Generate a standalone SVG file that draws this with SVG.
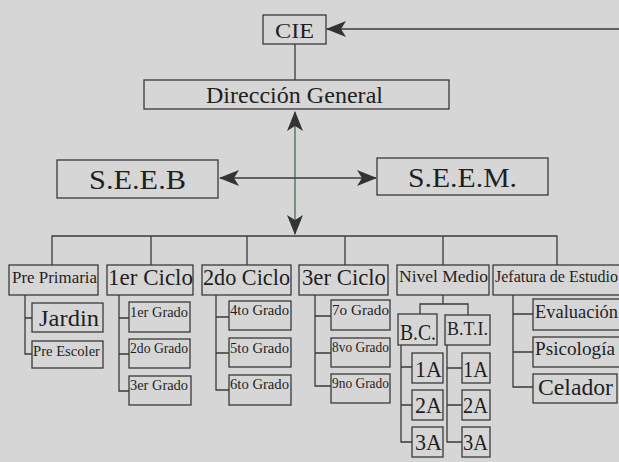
<svg xmlns="http://www.w3.org/2000/svg" width="619" height="462" viewBox="0 0 619 462">
<style>
.bx{fill:none;stroke:#3a3a3a;stroke-width:1.3}
.ln{fill:none;stroke:#3a3a3a;stroke-width:1.3}
.t{font-family:'Liberation Serif','Times New Roman',serif;fill:#1f1f1f}
</style>
<defs>
<marker id="ah" markerUnits="userSpaceOnUse" markerWidth="20" markerHeight="16" viewBox="0 0 20 16" refX="19" refY="8" orient="auto-start-reverse">
<path d="M0,0 L20,8 L0,16 L5,8 z" fill="#333"/>
</marker>
</defs>
<rect x="0" y="0" width="619" height="462" fill="#d6d6d6"/>

<g id="connectors">
<line class="ln" x1="619" y1="29" x2="327" y2="29" marker-end="url(#ah)"/>
<line class="ln" x1="295" y1="44" x2="295" y2="80"/>
<line x1="295" y1="112" x2="295" y2="234" stroke="#4c684c" stroke-width="1.3" marker-start="url(#ah)" marker-end="url(#ah)"/>
<line class="ln" x1="220" y1="178" x2="376" y2="178" marker-start="url(#ah)" marker-end="url(#ah)"/>
<path class="ln" d="M52,265 V236 H557 V265 M151,236 V265 M247,236 V265 M345,236 V265 M443,236 V265"/>
<path class="ln" d="M25,295 V354 H32 M25,318 H32"/>
<path class="ln" d="M119,295 V391 H129 M119,318 H129 M119,354 H129"/>
<path class="ln" d="M216,295 V390 H229 M216,317 H229 M216,353 H229"/>
<path class="ln" d="M315,295 V386 H331 M315,316 H331 M315,353 H331"/>
<path class="ln" d="M443,295 V304 M420,314 V304 H468 V315"/>
<path class="ln" d="M401,345 V442 H412 M401,367 H412 M401,405 H412"/>
<path class="ln" d="M447,345 V442 H462 M447,368 H462 M447,405 H462"/>
<path class="ln" d="M513,295 V387 H533 M513,314 H533 M513,352 H533"/>
</g>

<g id="cie"><rect class="bx" x="263" y="15" width="63" height="29"/><text class="t" x="275" y="38" font-size="22" textLength="39" lengthAdjust="spacingAndGlyphs">CIE</text></g>
<g id="direccion"><rect class="bx" x="144" y="80" width="305" height="29"/><text class="t" x="206" y="103" font-size="23" textLength="177" lengthAdjust="spacingAndGlyphs">Dirección General</text></g>
<g id="seeb"><rect class="bx" x="57" y="160" width="161" height="38"/><text class="t" x="89" y="189" font-size="27" textLength="97" lengthAdjust="spacingAndGlyphs">S.E.E.B</text></g>
<g id="seem"><rect class="bx" x="377" y="158" width="171" height="37"/><text class="t" x="408" y="187" font-size="27" textLength="109" lengthAdjust="spacingAndGlyphs">S.E.E.M.</text></g>

<g id="preprimaria"><rect class="bx" x="9" y="265" width="89" height="30"/><text class="t" x="12" y="283" font-size="16" textLength="85" lengthAdjust="spacingAndGlyphs">Pre Primaria</text></g>
<g id="ciclo1"><rect class="bx" x="107" y="265" width="86" height="30"/><text class="t" x="108" y="285" font-size="23" textLength="85" lengthAdjust="spacingAndGlyphs">1er Ciclo</text></g>
<g id="ciclo2"><rect class="bx" x="202" y="265" width="89" height="30"/><text class="t" x="203" y="285" font-size="23" textLength="87" lengthAdjust="spacingAndGlyphs">2do Ciclo</text></g>
<g id="ciclo3"><rect class="bx" x="299" y="265" width="89" height="30"/><text class="t" x="302" y="285" font-size="23" textLength="84" lengthAdjust="spacingAndGlyphs">3er Ciclo</text></g>
<g id="nivelmedio"><rect class="bx" x="397" y="265" width="92" height="30"/><text class="t" x="399" y="282" font-size="17" textLength="89" lengthAdjust="spacingAndGlyphs">Nivel Medio</text></g>
<g id="jefatura"><rect class="bx" x="493" y="265" width="135" height="30"/><text class="t" x="495" y="282" font-size="16" textLength="123" lengthAdjust="spacingAndGlyphs">Jefatura de Estudio</text></g>

<g id="jardin"><rect class="bx" x="32" y="303" width="71" height="29"/><text class="t" x="39" y="326" font-size="24" textLength="60" lengthAdjust="spacingAndGlyphs">Jardin</text></g>
<g id="preescoler"><rect class="bx" x="32" y="341" width="71" height="27"/><text class="t" x="33" y="356" font-size="15" textLength="67" lengthAdjust="spacingAndGlyphs">Pre Escoler</text></g>

<g id="grado1"><rect class="bx" x="129" y="302" width="61" height="30"/><text class="t" x="130" y="317" font-size="15" textLength="58" lengthAdjust="spacingAndGlyphs">1er Grado</text></g>
<g id="grado2"><rect class="bx" x="129" y="339" width="61" height="29"/><text class="t" x="130" y="353" font-size="15" textLength="58" lengthAdjust="spacingAndGlyphs">2do Grado</text></g>
<g id="grado3"><rect class="bx" x="129" y="376" width="62" height="29"/><text class="t" x="130" y="390" font-size="15" textLength="58" lengthAdjust="spacingAndGlyphs">3er Grado</text></g>

<g id="grado4"><rect class="bx" x="229" y="301" width="62" height="29"/><text class="t" x="230" y="315" font-size="15" textLength="59" lengthAdjust="spacingAndGlyphs">4to Grado</text></g>
<g id="grado5"><rect class="bx" x="229" y="338" width="62" height="29"/><text class="t" x="230" y="353" font-size="15" textLength="59" lengthAdjust="spacingAndGlyphs">5to Grado</text></g>
<g id="grado6"><rect class="bx" x="229" y="375" width="62" height="30"/><text class="t" x="230" y="389" font-size="15" textLength="59" lengthAdjust="spacingAndGlyphs">6to Grado</text></g>

<g id="grado7"><rect class="bx" x="331" y="300" width="59" height="30"/><text class="t" x="332" y="315" font-size="15" textLength="57" lengthAdjust="spacingAndGlyphs">7o Grado</text></g>
<g id="grado8"><rect class="bx" x="331" y="338" width="59" height="29"/><text class="t" x="332" y="352" font-size="15" textLength="57" lengthAdjust="spacingAndGlyphs">8vo Grado</text></g>
<g id="grado9"><rect class="bx" x="331" y="374" width="59" height="29"/><text class="t" x="332" y="388" font-size="15" textLength="57" lengthAdjust="spacingAndGlyphs">9no Grado</text></g>

<g id="bc"><rect class="bx" x="398" y="314" width="39" height="31"/><text class="t" x="400" y="340" font-size="24" textLength="36" lengthAdjust="spacingAndGlyphs">B.C.</text></g>
<g id="bti"><rect class="bx" x="445" y="315" width="45" height="30"/><text class="t" x="447" y="335" font-size="18" textLength="41" lengthAdjust="spacingAndGlyphs">B.T.I.</text></g>

<g id="bc1a"><rect class="bx" x="412" y="353" width="31" height="30"/><text class="t" x="415" y="377" font-size="23" textLength="27" lengthAdjust="spacingAndGlyphs">1A</text></g>
<g id="bc2a"><rect class="bx" x="412" y="390" width="31" height="30"/><text class="t" x="415" y="413" font-size="23" textLength="27" lengthAdjust="spacingAndGlyphs">2A</text></g>
<g id="bc3a"><rect class="bx" x="412" y="427" width="31" height="30"/><text class="t" x="415" y="450" font-size="23" textLength="27" lengthAdjust="spacingAndGlyphs">3A</text></g>
<g id="bti1a"><rect class="bx" x="462" y="353" width="28" height="30"/><text class="t" x="463" y="377" font-size="23" textLength="25" lengthAdjust="spacingAndGlyphs">1A</text></g>
<g id="bti2a"><rect class="bx" x="462" y="390" width="28" height="30"/><text class="t" x="463" y="413" font-size="23" textLength="25" lengthAdjust="spacingAndGlyphs">2A</text></g>
<g id="bti3a"><rect class="bx" x="462" y="427" width="28" height="30"/><text class="t" x="463" y="450" font-size="23" textLength="25" lengthAdjust="spacingAndGlyphs">3A</text></g>

<g id="evaluacion"><rect class="bx" x="533" y="299" width="95" height="31"/><text class="t" x="535" y="318" font-size="19" textLength="83" lengthAdjust="spacingAndGlyphs">Evaluación</text></g>
<g id="psicologia"><rect class="bx" x="533" y="337" width="95" height="30"/><text class="t" x="535" y="355" font-size="19" textLength="80" lengthAdjust="spacingAndGlyphs">Psicología</text></g>
<g id="celador"><rect class="bx" x="533" y="374" width="84" height="29"/><text class="t" x="538" y="395" font-size="24" textLength="75" lengthAdjust="spacingAndGlyphs">Celador</text></g>
</svg>
